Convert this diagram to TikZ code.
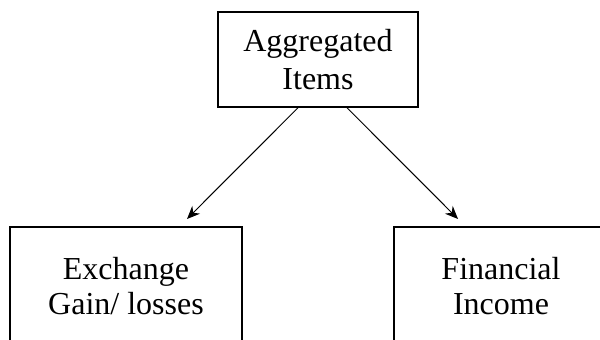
\documentclass[tikz,border=0pt]{standalone}
\usepackage{fontspec}
\setmainfont{Liberation Serif}
\usetikzlibrary{arrows.meta}

\begin{document}
\begin{tikzpicture}[x=0.5pt,y=-0.5pt,
  box/.style={draw,line width=0.75pt,align=center,inner sep=0pt,
    font=\fontsize{16}{17.5}\selectfont},
  >={Stealth[length=6.5pt,width=5.5pt]}]
  \useasboundingbox (0,0) rectangle (600,340);
  \clip (0,0) rectangle (600,340);
  \node[box,minimum width=100pt,minimum height=47.5pt,
    font=\fontsize{16}{19}\selectfont] (agg) at (318,59.5) {Aggregated\\Items};
  \node[box,minimum width=116pt,minimum height=59pt] (exch) at (126,286) {Exchange\\Gain/ losses};
  \node[box,minimum width=107pt,minimum height=59pt] (fin) at (501,286) {Financial\\Income};
  \coordinate (exchtip) at (187,219);
  \coordinate (fintip) at (458,219);
  \path[->,line width=0.5pt]
    ([xshift=-10pt]agg.south) edge (exchtip)
    ([xshift=14.5pt]agg.south) edge (fintip);
\end{tikzpicture}
\end{document}
